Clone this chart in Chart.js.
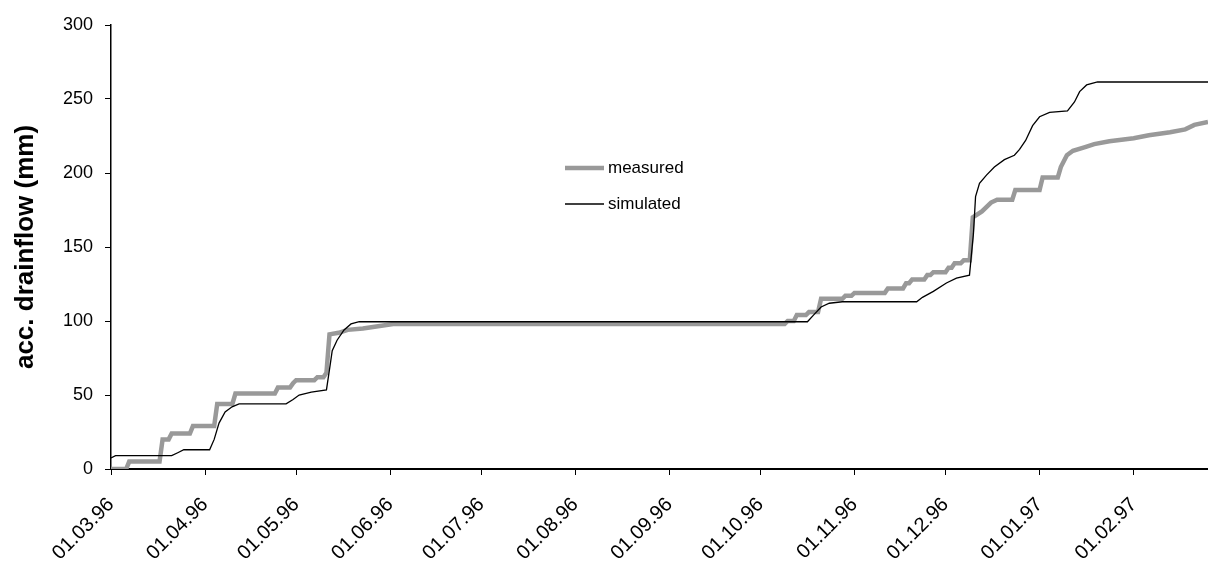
<!DOCTYPE html>
<html>
<head>
<meta charset="utf-8">
<script src="https://cdn.jsdelivr.net/npm/chart.js@4.4.0/dist/chart.umd.min.js"></script>
<style>
  body { margin: 0; background: #fff; }
  #wrap { width: 1208px; height: 561px; }
</style>
</head>
<body>
<div id="wrap"><canvas id="drainChart" width="1208" height="561"></canvas></div>
<script>
// days counted from 01.03.96
const tickDays = [0, 31, 61, 92, 122, 153, 184, 214, 245, 275, 306, 337];
const tickLabels = ['01.03.96', '01.04.96', '01.05.96', '01.06.96', '01.07.96', '01.08.96',
    '01.09.96', '01.10.96', '01.11.96', '01.12.96', '01.01.97', '01.02.97'];

const measuredDays = [0, 5, 6, 16, 17, 19, 20, 26, 27, 34,
    35, 40, 41, 54, 55, 59, 60, 61, 67, 68,
    70, 71, 72, 75, 78, 83, 88, 93, 100, 222,
    223, 225, 226, 229, 230, 233, 234, 241, 242, 244,
    245, 255, 256, 261, 262, 263, 264, 268, 269, 270,
    271, 275, 276, 277, 278, 280, 281, 283, 284, 287,
    290, 292, 297, 298, 306, 307, 312, 313, 315, 317,
    321, 324, 329, 337, 342, 349, 354, 357, 361.5];
const measuredValues = [0, 0, 5, 5, 20, 20, 24, 24, 29, 29,
    44, 44, 51, 51, 55, 55, 58, 60, 60, 62,
    62, 65, 91, 92, 94, 95, 96.5, 98, 98, 98,
    100, 100, 104, 104, 106, 106, 115, 115, 117, 117,
    119, 119, 122, 122, 125.5, 125.5, 128, 128, 131, 131,
    133, 133, 136, 136, 139, 139, 141, 141, 170, 174,
    180, 182, 182, 188.5, 188.5, 197, 197, 204, 212, 215,
    217.5, 219.5, 221.5, 223.5, 225.5, 227.5, 229.5, 232.5, 234.5];

const simulatedDays = [0, 1.5, 20, 22, 24, 32.5, 34, 35.6, 37.6, 39.9,
    42.2, 57.7, 60, 62, 66, 71, 72.2, 72.9, 74.5, 76.8,
    79.1, 81.8, 229.5, 231.5, 234, 236.7, 241, 265.5, 267.4, 271,
    275.3, 278.6, 282.9, 284.2, 284.9, 286.2, 288.5, 291.1, 294.4, 297.7,
    299.4, 301.4, 303.7, 306, 309.3, 315.2, 317.5, 319.2, 321.5, 325.1, 361.5];
const simulatedValues = [7.4, 9, 9, 11, 13, 13, 20, 31, 38.5, 42,
    44, 44, 47, 50, 52, 53.4, 70, 80, 87, 94,
    98, 99.5, 99.5, 104, 109.5, 112, 113, 113, 116, 120,
    125.7, 129, 131, 159, 184, 193, 198.6, 204, 209, 212,
    216, 222, 232, 238, 241, 242, 248, 255, 259.5, 261.5, 261.5];

const toPoints = (days, values) => days.map((d, i) => ({ x: d, y: values[i] }));

// legend drawn inside the plot, next to the curves
const innerLegend = {
    id: 'innerLegend',
    afterDatasetsDraw(chart) {
        const ctx = chart.ctx;
        chart.data.datasets.forEach((ds, i) => {
            const y = 168 + i * 36;
            ctx.save();
            ctx.strokeStyle = ds.borderColor;
            ctx.lineWidth = ds.borderWidth;
            ctx.beginPath();
            ctx.moveTo(565, y);
            ctx.lineTo(604, y);
            ctx.stroke();
            ctx.fillStyle = '#000';
            ctx.font = '17px "Liberation Sans", Arial, sans-serif';
            ctx.textBaseline = 'middle';
            ctx.fillText(ds.label, 608, y);
            ctx.restore();
        });
    }
};

const ctx = document.getElementById('drainChart').getContext('2d');
new Chart(ctx, {
    type: 'line',
    data: {
        datasets: [{
            label: 'measured',
            data: toPoints(measuredDays, measuredValues),
            borderColor: '#999999',
            borderWidth: 4.5,
            pointRadius: 0,
            tension: 0,
            order: 1
        }, {
            label: 'simulated',
            data: toPoints(simulatedDays, simulatedValues),
            borderColor: '#000000',
            borderWidth: 1.3,
            pointRadius: 0,
            tension: 0,
            order: 0
        }]
    },
    options: {
        responsive: false,
        animation: false,
        layout: { padding: { top: 25, right: 0, left: 0, bottom: 0 } },
        plugins: {
            legend: { display: false },
            tooltip: { enabled: false }
        },
        scales: {
            x: {
                type: 'linear',
                min: 0,
                max: 361.5,
                afterFit: (scale) => { scale.height = 92; },
                afterBuildTicks: (scale) => {
                    scale.ticks = tickDays.map(v => ({ value: v }));
                },
                grid: { drawOnChartArea: false, drawTicks: true, tickLength: 6, color: '#000' },
                border: { color: '#000', width: 2 },
                ticks: {
                    autoSkip: false,
                    minRotation: 45,
                    maxRotation: 45,
                    padding: 18,
                    color: '#000',
                    font: { family: '"Liberation Sans", Arial, sans-serif', size: 20 },
                    callback: (value) => tickLabels[tickDays.indexOf(value)]
                }
            },
            y: {
                min: 0,
                max: 300,
                afterFit: (scale) => { scale.width = 111; },
                grid: { drawOnChartArea: false, drawTicks: true, tickLength: 6, color: '#000' },
                border: { color: '#000', width: 1.5 },
                ticks: {
                    stepSize: 50,
                    padding: 12,
                    color: '#000',
                    font: { family: '"Liberation Sans", Arial, sans-serif', size: 18 }
                },
                title: {
                    display: true,
                    text: 'acc. drainflow (mm)',
                    color: '#000',
                    padding: { top: 10, bottom: 0 },
                    font: { family: '"Liberation Sans", Arial, sans-serif', size: 26, weight: 'bold' }
                }
            }
        }
    },
    plugins: [innerLegend]
});
</script>
</body>
</html>
